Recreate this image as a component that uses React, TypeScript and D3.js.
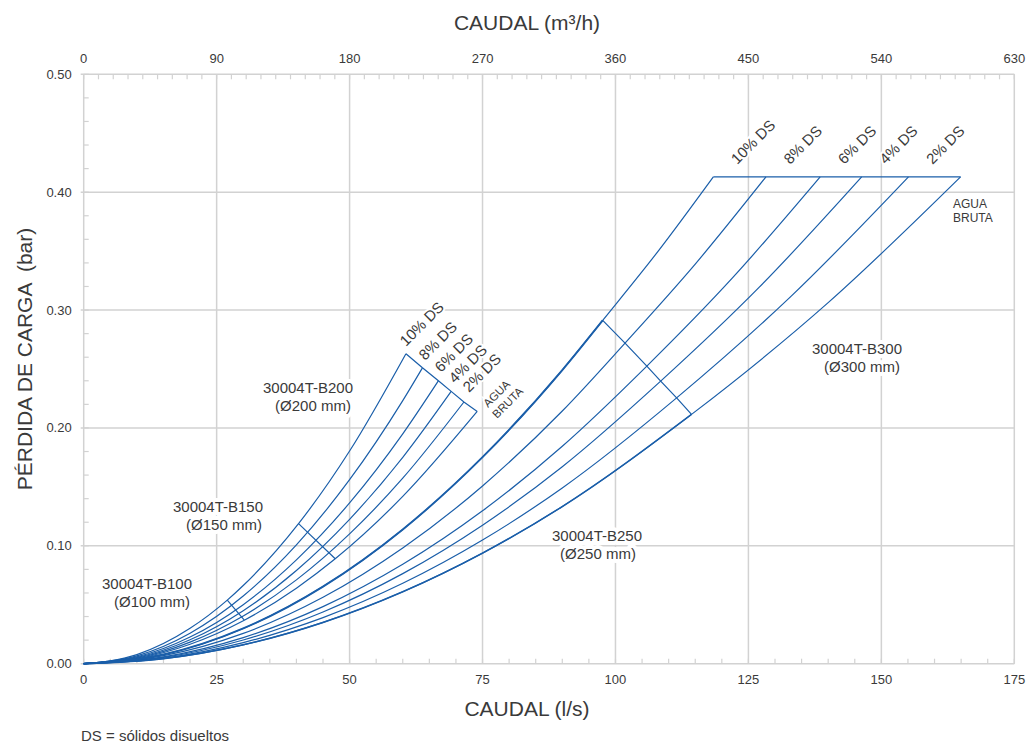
import React from "react";
import * as d3 from "d3";

// ---- axis ticks ----
const flowTicks = [0, 25, 50, 75, 100, 125, 150, 175];
const flowM3hTicks = [0, 90, 180, 270, 360, 450, 540, 630];
const lossTicks = [0, 0.1, 0.2, 0.3, 0.4, 0.5];

// ---- series names ----
const concentrations = ["10% DS", "8% DS", "6% DS", "4% DS", "2% DS"];
const rawWater = ["AGUA", "BRUTA"];
const models = ["30004T-B100", "30004T-B150", "30004T-B200", "30004T-B250", "30004T-B300"];
const diameters = ["(Ø100 mm)", "(Ø150 mm)", "(Ø200 mm)", "(Ø250 mm)", "(Ø300 mm)"];

// ---- B200 family curves (flow l/s, loss bar) ----
const b200_10 = [[0, 0], [10, 0.0077], [20, 0.03], [27.0, 0.0539], [30, 0.0663], [40.4, 0.1188], [50, 0.1804], [60.6, 0.263]];
const b200_8 = [[0, 0], [10, 0.0067], [20, 0.0259], [30, 0.0574], [40, 0.1008], [50, 0.1561], [60, 0.2232], [63.7, 0.251]];
const b200_6 = [[0, 0], [10, 0.0058], [20, 0.0226], [30, 0.0501], [40, 0.0881], [50, 0.1364], [60, 0.195], [66.7, 0.24]];
const b200_4 = [[0, 0], [10, 0.0052], [20, 0.0203], [30, 0.045], [40, 0.0791], [50, 0.1225], [60, 0.1751], [69.1, 0.231]];
const b200_2 = [[0, 0], [10, 0.0047], [20, 0.0183], [30, 0.0405], [40, 0.0711], [50, 0.1101], [60, 0.1574], [71.5, 0.222]];
const b200_ab = [[0, 0], [10, 0.0042], [20, 0.0165], [30.2, 0.0369], [40, 0.0641], [47.3, 0.089], [60, 0.1419], [74.0, 0.214]];

// ---- B300 family curves ----
const b300_10 = [[0, 0], [15, 0.0078], [30, 0.0299], [45, 0.0654], [60, 0.1139], [75, 0.1752], [90, 0.2491], [97.6, 0.2913], [108, 0.3498], [118.4, 0.413]];
const b300_8 = [[0, 0], [15, 0.0068], [30, 0.0257], [45, 0.0563], [60, 0.0981], [75, 0.1508], [90, 0.2144], [101.8, 0.272], [115, 0.339], [128.3, 0.413]];
const b300_6 = [[0, 0], [15, 0.0058], [30, 0.0221], [45, 0.0484], [60, 0.0843], [75, 0.1297], [90, 0.1845], [105.9, 0.2525], [122, 0.3273], [138.5, 0.413]];
const b300_4 = [[0, 0], [15, 0.0053], [30, 0.0201], [45, 0.0439], [60, 0.0764], [75, 0.1175], [90, 0.1671], [108.5, 0.2397], [127, 0.3192], [146.3, 0.413]];
const b300_2 = [[0, 0], [15, 0.0047], [30, 0.0179], [45, 0.0391], [60, 0.0682], [75, 0.1049], [90, 0.1491], [111.5, 0.2255], [133, 0.3116], [155.1, 0.413]];
const b300_ab = [[0, 0], [15, 0.0042], [30, 0.016], [45, 0.035], [60, 0.061], [75, 0.0938], [90, 0.1333], [114.3, 0.2115], [140, 0.3063], [164.9, 0.413]];

// ---- operating-limit cross lines (flow l/s on the bounding curves) ----
const b100CrossFlow = [27.0, 30.2];
const b150CrossFlow = [40.4, 47.3];
const b250CrossFlow = [97.6, 101.8, 105.9, 108.5, 111.5, 114.3];

const b200Curves = [b200_10, b200_8, b200_6, b200_4, b200_2, b200_ab];
const b300Curves = [b300_10, b300_8, b300_6, b300_4, b300_2, b300_ab];

const W = 1031;
const H = 747;
const M = { left: 83.7, right: 1014.3, top: 74.3, bottom: 663.7 };
const BLUE = "#1a5ea9";
const GRID = "#d2d2d2";
const TXT = "#3a3a3a";
const FONT = "'Liberation Sans', Arial, Helvetica, sans-serif";

export default function App() {
  const x = d3.scaleLinear().domain([0, 175]).range([M.left, M.right]);
  const xTop = d3.scaleLinear().domain([0, 630]).range([M.left, M.right]);
  const y = d3.scaleLinear().domain([0, 0.5]).range([M.bottom, M.top]);
  const line = d3
    .line<number[]>()
    .x((d) => x(d[0]))
    .y((d) => y(d[1]))
    .curve(d3.curveMonotoneX);
  const straight = d3
    .line<number[]>()
    .x((d) => x(d[0]))
    .y((d) => y(d[1]));

  const at = (curve: number[][], f: number) => curve.find((p) => p[0] === f) as number[];
  const b100Cross = [at(b200_10, b100CrossFlow[0]), at(b200_ab, b100CrossFlow[1])];
  const b150Cross = [at(b200_10, b150CrossFlow[0]), at(b200_ab, b150CrossFlow[1])];
  const b200End = b200Curves.map((c) => c[c.length - 1]);
  const b250Cross = b300Curves.map((c, i) => at(c, b250CrossFlow[i]));
  const b300End = b300Curves.map((c) => c[c.length - 1]);

  const minorBottom = d3.range(0, 175.01, 5);
  const minorTop = d3.range(0, 630.01, 10);
  const minorLeft = d3.range(0, 0.5001, 0.02);

  const halo = { stroke: "#fff", strokeWidth: 8, paintOrder: "stroke" as const, strokeLinejoin: "round" as const };

  const modelPos = [
    [147, 589],
    [218, 512],
    [308, 393],
    [597, 541],
    [857, 354],
  ];
  const diaShift = [5, 6, 5, 1, 5];

  const b200LabelPos = [
    [406, 347],
    [425, 361],
    [441, 373],
    [455, 384],
    [469, 393],
  ];

  const titleX = 527;

  return (
    <svg
      width={W}
      height={H}
      style={{ position: "absolute", left: 0, top: 0, background: "#fff" }}
      fontFamily={FONT}
    >
      <rect x={0} y={0} width={W} height={H} fill="#fff" />
      {/* grid */}
      {flowTicks.map((t) => (
        <line key={"gx" + t} x1={x(t)} x2={x(t)} y1={M.top} y2={M.bottom} stroke={GRID} strokeWidth={1.5} />
      ))}
      {lossTicks.map((t) => (
        <line key={"gy" + t} x1={M.left - 3} x2={M.right} y1={y(t)} y2={y(t)} stroke={GRID} strokeWidth={1.5} />
      ))}
      {/* minor ticks */}
      {minorBottom.map((t) => (
        <line key={"mb" + t} x1={x(t)} x2={x(t)} y1={M.bottom} y2={M.bottom - 5} stroke={GRID} strokeWidth={1.2} />
      ))}
      {minorTop.map((t) => (
        <line key={"mt" + t} x1={xTop(t)} x2={xTop(t)} y1={M.top} y2={M.top + 5} stroke={GRID} strokeWidth={1.2} />
      ))}
      {minorLeft.map((t) => (
        <line key={"ml" + t} x1={M.left} x2={M.left + 5} y1={y(t)} y2={y(t)} stroke={GRID} strokeWidth={1.2} />
      ))}

      {/* tick labels */}
      <g fontSize={13} fill={TXT}>
        {flowTicks.map((t) => (
          <text key={"bx" + t} x={x(t)} y={M.bottom + 20} textAnchor="middle">
            {t}
          </text>
        ))}
        {flowM3hTicks.map((t) => (
          <text key={"tx" + t} x={xTop(t)} y={M.top - 11} textAnchor="middle">
            {t}
          </text>
        ))}
        {lossTicks.map((t) => (
          <text key={"ly" + t} x={M.left - 12} y={y(t) + 4.5} textAnchor="end">
            {t.toFixed(2)}
          </text>
        ))}
      </g>

      {/* axis titles */}
      <g fontSize={21} fill={TXT}>
        <text x={titleX} y={30} textAnchor="middle">
          CAUDAL (m³/h)
        </text>
        <text x={titleX} y={716} textAnchor="middle">
          CAUDAL (l/s)
        </text>
        <text transform={`translate(32, 359) rotate(-90)`} textAnchor="middle" style={{ whiteSpace: "pre" }}>
          {"PÉRDIDA DE CARGA  (bar)"}
        </text>
      </g>
      <text x={81} y={741} fontSize={15} fill={TXT}>
        DS = sólidos disueltos
      </text>

      {/* curves */}
      <g fill="none" stroke={BLUE} strokeWidth={1.2}>
        {b200Curves.map((c, i) => (
          <path key={"c200" + i} d={line(c) || ""} />
        ))}
        {b300Curves.map((c, i) => (
          <path key={"c300" + i} d={line(c) || ""} />
        ))}
        <path d={line(b300_10.filter((p) => p[0] <= b250CrossFlow[0])) || ""} strokeWidth={1.9} />
        <path d={line(b300_ab.filter((p) => p[0] <= b250CrossFlow[5])) || ""} strokeWidth={1.5} />
        <path d={straight(b100Cross) || ""} />
        <path d={straight(b150Cross) || ""} />
        <path d={straight(b200End) || ""} />
        <path d={straight(b250Cross) || ""} />
        <path d={straight(b300End) || ""} />
      </g>

      {/* model labels */}
      <g fontSize={15} fill={TXT} textAnchor="middle" {...halo}>
        {models.map((m, i) => (
          <g key={m}>
            <text x={modelPos[i][0]} y={modelPos[i][1]}>
              {m}
            </text>
            <text x={modelPos[i][0] + diaShift[i]} y={modelPos[i][1] + 17.5}>
              {diameters[i]}
            </text>
          </g>
        ))}
      </g>

      {/* DS labels B200 */}
      <g fontSize={15} fill={TXT} stroke="#fff" strokeWidth={4} paintOrder="stroke">
        {concentrations.map((c, i) => (
          <text key={"l200" + c} transform={`translate(${b200LabelPos[i][0]}, ${b200LabelPos[i][1]}) rotate(-45)`}>
            {c}
          </text>
        ))}
        <g fontSize={11.5}>
          <text transform="translate(488, 408) rotate(-45)">{rawWater[0]}</text>
          <text transform="translate(497, 419) rotate(-45)">{rawWater[1]}</text>
        </g>
      </g>

      {/* DS labels B300 */}
      <g fontSize={15} fill={TXT} stroke="#fff" strokeWidth={4} paintOrder="stroke">
        {concentrations.map((c, i) => (
          <text key={"l300" + c} transform={`translate(${x(b300End[i][0]) + 24}, 165) rotate(-45)`}>
            {c}
          </text>
        ))}
      </g>
      <g fontSize={12} fill={TXT}>
        <text x={953} y={208}>
          {rawWater[0]}
        </text>
        <text x={953} y={222}>
          {rawWater[1]}
        </text>
      </g>
    </svg>
  );
}
